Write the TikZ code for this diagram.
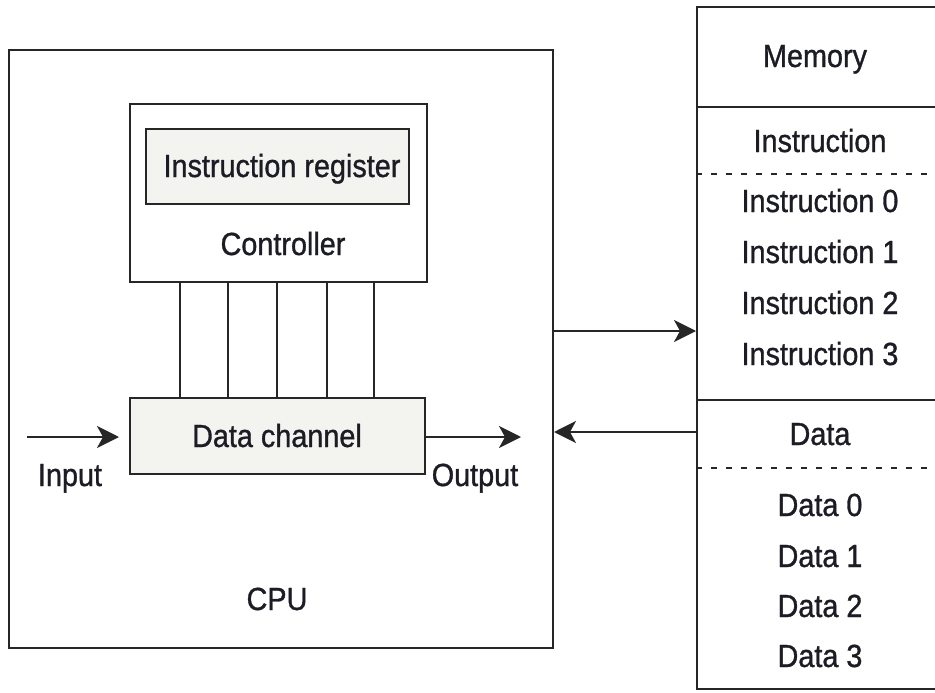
\documentclass[tikz,border=0pt]{standalone}
\usepackage{fontspec}
\setmainfont{Liberation Sans}[FakeStretch=0.9, FakeBold=1.0]
\usetikzlibrary{arrows.meta}
\definecolor{inkline}{HTML}{262626}
\definecolor{inktext}{HTML}{1C1C24}
\definecolor{panel}{HTML}{F3F3F0}
\tikzset{
  box/.style={draw=inkline, line width=2pt, rectangle, inner sep=0pt},
  shaded/.style={box, fill=panel},
  lbl/.style={anchor=base, inner sep=0pt, text=inktext,
    font=\fontsize{32}{34}\selectfont},
  wire/.style={draw=inkline, line width=2pt},
  arr/.style={wire, -{Stealth[length=22pt, width=22pt, inset=6pt]}},
  sep/.style={draw=inkline, line width=1.6pt, dash pattern=on 6pt off 9pt}
}
\begin{document}
\begin{tikzpicture}[x=1pt, y=-1pt]
\useasboundingbox (0,0) rectangle (935,693);
\clip (0,0) rectangle (935,693);

% CPU and its parts
\node[box, minimum width=544pt, minimum height=598pt] (cpu) at (281,349) {};
\node[box, minimum width=297pt, minimum height=178pt] (ctrl) at (278.5,193) {};
\node[shaded, minimum width=263pt, minimum height=75pt] (ir) at (277.5,166.5) {};
\node[shaded, minimum width=295pt, minimum height=76pt] (chan) at (277.5,436) {};

\node[lbl] (irtext) at (282,177) {Instruction register};
\node[lbl] (ctrltext) at (283,255) {Controller};
\node[lbl] (chantext) at (277,447) {Data channel};
\node[lbl] (cputext) at (277,610) {CPU};
\node[lbl] (intext) at (70,486) {Input};
\node[lbl] (outtext) at (475,486) {Output};

% control lines between controller and data channel
\foreach \i/\x in {1/180, 2/228, 3/277, 4/327, 5/374} {
  \coordinate (bus\i) at (\x,0);
  \draw[wire] (ctrl.south -| bus\i) -- (chan.north -| bus\i);
}

% input and output of the data channel
\coordinate (instart) at (27,437);
\coordinate (outend) at (521,437);
\draw[arr, shorten >=10pt] (instart) -- (chan.west |- instart);
\draw[arr] (chan.east |- outend) -- (outend);

% memory
\node[box, minimum width=258pt, minimum height=682pt] (mem) at (826,348) {};
\coordinate (r1) at (0,107);
\coordinate (r2) at (0,174);
\coordinate (r3) at (0,400);
\coordinate (r4) at (0,468);
\draw[wire] (mem.west |- r1) -- (mem.east |- r1);
\draw[sep] (mem.west |- r2) -- (mem.east |- r2);
\draw[wire] (mem.west |- r3) -- (mem.east |- r3);
\draw[sep] (mem.west |- r4) -- (mem.east |- r4);

\node[lbl] (memtext) at (815,67) {Memory};
\node[lbl] (insttext) at (820,152) {Instruction};
\node[lbl] (inst0) at (820,212) {Instruction 0};
\node[lbl] (inst1) at (820,263) {Instruction 1};
\node[lbl] (inst2) at (820,314) {Instruction 2};
\node[lbl] (inst3) at (820,365) {Instruction 3};
\node[lbl] (datatext) at (820,445) {Data};
\node[lbl] (data0) at (820,516) {Data 0};
\node[lbl] (data1) at (820,567) {Data 1};
\node[lbl] (data2) at (820,617) {Data 2};
\node[lbl] (data3) at (820,667) {Data 3};

% traffic between CPU and memory
\coordinate (tomem) at (0,331);
\coordinate (tocpu) at (0,432);
\draw[arr] (cpu.east |- tomem) -- (mem.west |- tomem);
\draw[arr] (mem.west |- tocpu) -- (cpu.east |- tocpu);
\end{tikzpicture}
\end{document}
